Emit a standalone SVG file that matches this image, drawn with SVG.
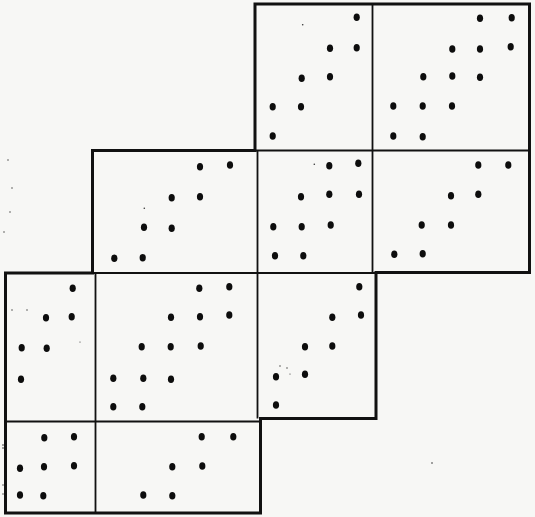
<svg xmlns="http://www.w3.org/2000/svg" width="535" height="517" viewBox="0 0 535 517">
<style>
.bg{fill:#f7f7f5}
.outer{fill:none;stroke:#111;stroke-width:3;stroke-linejoin:miter}
.inner{fill:none;stroke:#111;stroke-width:1.8}
.d{fill:#0d0d0d}
.s{fill:#333}
</style>
<defs>
<ellipse id="dot" rx="3.1" ry="3.8"/>
</defs>
<rect class="bg" x="0" y="0" width="535" height="517"/>
<g id="connectors">
<path class="outer" d="M255,4 H529.5 V272.5 H376 V418.5 H260.5 V513 H5.5 V273 H92.5 V150.5 H255 Z"/>
<path class="inner" d="M372.5,4 V272.5 M255,150.5 H529.5 M257.5,150.5 V418.5 M92.5,273 H376 M95.5,273 V513 M5.5,421.5 H260.5"/>
</g>
<g id="cellA" class="d">
<use href="#dot" x="356.7" y="17.3"/>
<use href="#dot" x="330" y="48.3"/><use href="#dot" x="356.7" y="47.7"/>
<use href="#dot" x="301.7" y="78.3"/><use href="#dot" x="330" y="76.7"/>
<use href="#dot" x="272.7" y="106.7"/><use href="#dot" x="301" y="106.7"/>
<use href="#dot" x="272.7" y="136"/>
</g>
<g id="cellB" class="d">
<use href="#dot" x="480" y="18.3"/><use href="#dot" x="511.7" y="17.7"/>
<use href="#dot" x="452.3" y="49"/><use href="#dot" x="480" y="49"/><use href="#dot" x="510.7" y="46.7"/>
<use href="#dot" x="423.3" y="76.7"/><use href="#dot" x="452.3" y="76"/><use href="#dot" x="480" y="77.3"/>
<use href="#dot" x="393.3" y="106"/><use href="#dot" x="422.7" y="106"/><use href="#dot" x="452" y="106"/>
<use href="#dot" x="393.3" y="136"/><use href="#dot" x="422.7" y="136.7"/>
</g>
<g id="cellC" class="d">
<use href="#dot" x="200" y="166.7"/><use href="#dot" x="230" y="165"/>
<use href="#dot" x="171.7" y="197.7"/><use href="#dot" x="200" y="196.7"/>
<use href="#dot" x="144" y="227.3"/><use href="#dot" x="171.7" y="228.3"/>
<use href="#dot" x="114.3" y="258.3"/><use href="#dot" x="142.7" y="257.7"/>
</g>
<g id="cellD" class="d">
<use href="#dot" x="329.3" y="165.7"/><use href="#dot" x="358.3" y="163.3"/>
<use href="#dot" x="301" y="196.7"/><use href="#dot" x="329.3" y="194.3"/><use href="#dot" x="359" y="194.3"/>
<use href="#dot" x="273.3" y="226.7"/><use href="#dot" x="301.7" y="226.7"/><use href="#dot" x="330.7" y="225"/>
<use href="#dot" x="275" y="255.7"/><use href="#dot" x="303.3" y="255.7"/>
</g>
<g id="cellE" class="d">
<use href="#dot" x="478.3" y="165"/><use href="#dot" x="508.3" y="165"/>
<use href="#dot" x="451" y="195.7"/><use href="#dot" x="478.3" y="194.3"/>
<use href="#dot" x="421.7" y="225"/><use href="#dot" x="451" y="225"/>
<use href="#dot" x="394.3" y="254.3"/><use href="#dot" x="422.7" y="253.7"/>
</g>
<g id="cellF" class="d">
<use href="#dot" x="72.7" y="288.3"/>
<use href="#dot" x="46" y="317.7"/><use href="#dot" x="71.7" y="316.7"/>
<use href="#dot" x="21.7" y="347.7"/><use href="#dot" x="46.7" y="348.3"/>
<use href="#dot" x="21" y="379.3"/>
</g>
<g id="cellG" class="d">
<use href="#dot" x="199.3" y="288.3"/><use href="#dot" x="229.3" y="286.7"/>
<use href="#dot" x="171" y="317.3"/><use href="#dot" x="200" y="316.7"/><use href="#dot" x="229.3" y="315"/>
<use href="#dot" x="141.7" y="346.7"/><use href="#dot" x="170.7" y="346.7"/><use href="#dot" x="200.7" y="346"/>
<use href="#dot" x="113.3" y="378.3"/><use href="#dot" x="143.3" y="378.3"/><use href="#dot" x="171" y="379.3"/>
<use href="#dot" x="113.3" y="406.7"/><use href="#dot" x="142.3" y="406.7"/>
</g>
<g id="cellH" class="d">
<use href="#dot" x="359.3" y="286.7"/>
<use href="#dot" x="332.3" y="317.3"/><use href="#dot" x="361" y="315"/>
<use href="#dot" x="305" y="346.7"/><use href="#dot" x="332.3" y="346"/>
<use href="#dot" x="276" y="376.7"/><use href="#dot" x="305" y="374.3"/>
<use href="#dot" x="276" y="405"/>
</g>
<g id="cellI" class="d">
<use href="#dot" x="44.3" y="437.7"/><use href="#dot" x="74" y="436.7"/>
<use href="#dot" x="20" y="468.3"/><use href="#dot" x="44" y="466.7"/><use href="#dot" x="74" y="465.7"/>
<use href="#dot" x="20" y="495"/><use href="#dot" x="43.3" y="495.7"/>
</g>
<g id="cellJ" class="d">
<use href="#dot" x="201.7" y="436.7"/><use href="#dot" x="233.3" y="436.7"/>
<use href="#dot" x="172.3" y="466.7"/><use href="#dot" x="202.3" y="466"/>
<use href="#dot" x="143.3" y="495"/><use href="#dot" x="172.3" y="495.7"/>
</g>
<g id="specks" class="s">
<circle cx="302.7" cy="24.7" r="0.8"/>
<circle cx="144.3" cy="208.3" r="0.8"/>
<circle cx="314.3" cy="164.3" r="0.8"/>
<circle cx="12" cy="310" r="0.7"/><circle cx="27" cy="310" r="0.7"/>
<circle cx="80" cy="342" r="0.6"/>
<circle cx="280" cy="366" r="0.7"/><circle cx="287" cy="368" r="0.7"/><circle cx="290" cy="374" r="0.6"/>
<circle cx="3" cy="445" r="0.8"/><circle cx="3" cy="448" r="0.8"/>
<circle cx="3" cy="485" r="0.7"/><circle cx="3" cy="494" r="0.7"/>
<circle cx="432" cy="463" r="0.8"/>
<circle cx="8" cy="160" r="0.7"/><circle cx="12" cy="188" r="0.7"/><circle cx="10" cy="212" r="0.7"/><circle cx="4" cy="232" r="0.7"/>
</g>
</svg>
